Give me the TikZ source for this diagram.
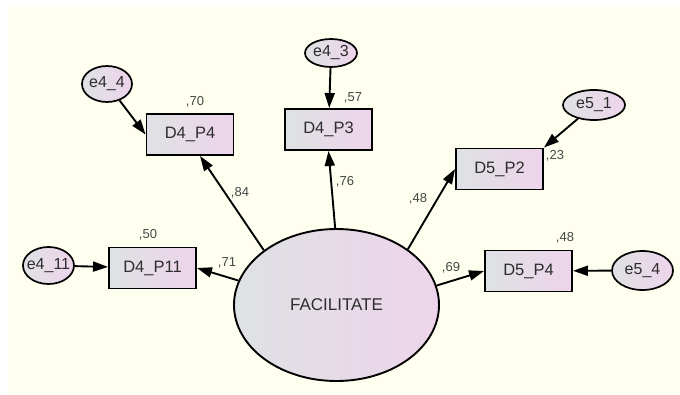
\documentclass[tikz,border=0pt]{standalone}
\usepackage{fontspec}
\setmainfont{Liberation Sans}
\usetikzlibrary{shapes.geometric,arrows.meta}

\definecolor{paper}{RGB}{255,255,240}
\definecolor{shadeleft}{RGB}{222,226,228}
\definecolor{shaderight}{RGB}{238,212,234}
\definecolor{ink}{RGB}{45,45,45}
\definecolor{weightink}{RGB}{70,70,70}

\tikzstyle{latent}=[ellipse,draw,line width=1.9pt,left color=shadeleft,
    right color=shaderight,minimum width=205pt,minimum height=152pt,
    inner sep=0pt,text=ink,font=\fontsize{17}{19}\selectfont]
\tikzstyle{observed}=[rectangle,draw,line width=1.9pt,left color=shadeleft,
    right color=shaderight,minimum width=87pt,minimum height=41pt,
    inner sep=0pt,text=ink,font=\fontsize{16.5}{18}\selectfont]
\tikzstyle{error}=[ellipse,draw,line width=1.7pt,left color=shadeleft,
    right color=shaderight,inner ysep=0pt,inner xsep=-5pt,text=ink,
    font=\fontsize{16}{18}\selectfont]
\tikzstyle{weight}=[inner sep=0pt,text=weightink,font=\fontsize{13}{15}\selectfont]
\tikzstyle{path arrow}=[line width=1.9pt,-{Triangle[length=15pt,width=10pt]}]
\newcommand{\indicator}[3]{
    \node[observed] at (#1) (#2) {#3};
}
\newcommand{\residual}[5]{
    \node[error,minimum width=#4pt,minimum height=#5pt] at (#1) (#2) {#3};
}
\newcommand{\weight}[3]{
    \node[weight] at (#1) (#2) {#3};
}
\newcommand{\loading}[2]{\draw[path arrow] (#1) -- (#2);}

\begin{document}
\begin{tikzpicture}[x=1pt,y=-1pt]
    \fill[white] (0,0) rectangle (680,394);
    \fill[paper] (8,7) rectangle (680,394);
    \useasboundingbox (0,0) rectangle (680,394);
    %
    \node[latent] at (336.5,305) (F) {FACILITATE};
    %
    \indicator{190,134.5}{D4P4}{D4\_P4}
    \indicator{328.5,129.5}{D4P3}{D4\_P3}
    \indicator{499.5,169}{D5P2}{D5\_P2}
    \indicator{152.5,268}{D4P11}{D4\_P11}
    \indicator{528.5,271}{D5P4}{D5\_P4}
    %
    \residual{107,84}{e44}{e4\_4}{50}{36}
    \residual{331,53}{e43}{e4\_3}{52}{28}
    \residual{594,105}{e51}{e5\_1}{62}{30}
    \residual{48.5,265.5}{e411}{e4\_11}{51}{37}
    \residual{642.5,270.5}{e54}{e5\_4}{61}{39}
    %
    \loading{F.143}{[xshift=10pt]D4P4.south}
    \loading{F.91}{D4P3.south}
    \loading{F.38}{D5P2.west}
    \loading{F.166}{D4P11.east}
    \loading{F.11}{D5P4.west}
    %
    \loading{e44}{D4P4.west}
    \loading{e43}{D4P3}
    \loading{e51}{D5P2.north east}
    \loading{e411}{D4P11}
    \loading{e54}{D5P4}
    %
    \weight{195,102}{rD4P4}{,70}
    \weight{353,98}{rD4P3}{,57}
    \weight{555,156}{rD5P2}{,23}
    \weight{148,235}{rD4P11}{,50}
    \weight{565,238}{rD5P4}{,48}
    %
    \weight{240,193}{wD4P4}{,84}
    \weight{345,182}{wD4P3}{,76}
    \weight{418,199}{wD5P2}{,48}
    \weight{227,263}{wD4P11}{,71}
    \weight{451,268}{wD5P4}{,69}
  \end{tikzpicture}
\end{document}
